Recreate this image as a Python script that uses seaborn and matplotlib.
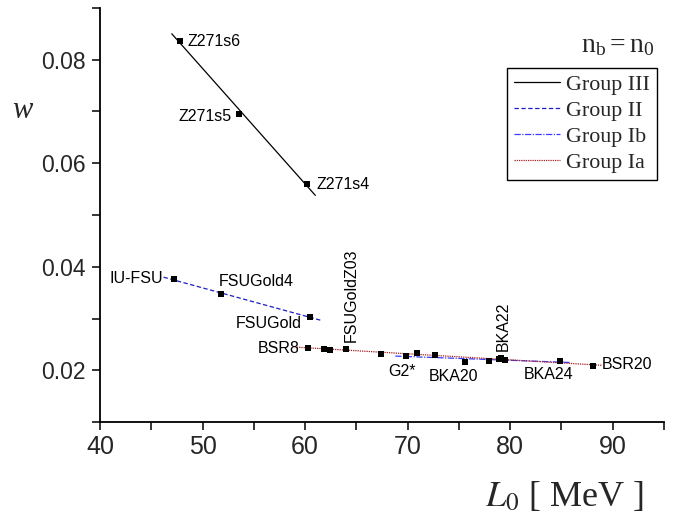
import numpy as np
import pandas as pd
import matplotlib
matplotlib.use("Agg")
import matplotlib.pyplot as plt
from matplotlib import font_manager
from matplotlib.ticker import MultipleLocator, FormatStrFormatter
import seaborn as sns

# ---- data: slope parameter L0 [MeV] and w for each parametrisation ----
group3_L = [47.8, 53.6, 60.2]
group3_w = [0.0836, 0.0696, 0.0559]
group3_names = ["Z271s6", "Z271s5", "Z271s4"]

group2_L = [47.2, 51.8, 60.5]
group2_w = [0.0376, 0.0347, 0.0303]
group2_names = ["IU-FSU", "FSUGold4", "FSUGold"]

group1b_L = [69.8, 72.7, 75.6, 77.95, 78.9, 84.85]
group1b_w = [0.0228, 0.0229, 0.0215, 0.0218, 0.0222, 0.0218]
group1b_names = ["G2*", "", "BKA20", "", "BKA22", "BKA24"]

group1a_L = [60.26, 61.8, 62.4, 64.0, 67.45, 70.9, 79.1, 79.5, 88.1]
group1a_w = [0.02434, 0.0241, 0.0240, 0.0241, 0.0231, 0.0233, 0.0224, 0.0220, 0.0209]
group1a_names = ["BSR8", "", "", "FSUGoldZ03", "", "", "", "", "BSR20"]

# x-extent of each linear fit line
fit_span = {
    "Group III": (47.0, 61.0),
    "Group II": (46.2, 61.5),
    "Group Ib": (68.8, 85.9),
    "Group Ia": (59.2, 88.9),
}

groups = {
    "Group III": (group3_L, group3_w),
    "Group II": (group2_L, group2_w),
    "Group Ib": (group1b_L, group1b_w),
    "Group Ia": (group1a_L, group1a_w),
}
line_style = {
    "Group III": dict(color="black", linestyle="-", linewidth=0.9),
    "Group II": dict(color="#1c1cc8", linestyle=(0, (3.5, 2)), linewidth=0.9),
    "Group Ib": dict(color="#3a3aff", linestyle=(0, (5, 1.2, 1, 1.2)), linewidth=0.9),
    "Group Ia": dict(color="#a52020", linestyle=(0, (1, 0.8)), linewidth=0.9),
}

points = pd.DataFrame({
    "L0": group3_L + group2_L + group1b_L + group1a_L,
    "w": group3_w + group2_w + group1b_w + group1a_w,
})

sns.set_style("ticks")
plt.rcParams["font.family"] = ["Liberation Sans", "DejaVu Sans"]
plt.rcParams["mathtext.fontset"] = "stix"

installed = {f.name for f in font_manager.fontManager.ttflist}
tick_family = ["Liberation Sans Narrow"] if "Liberation Sans Narrow" in installed \
    else ["Liberation Sans"]

fig = plt.figure(figsize=(6.83, 5.17), dpi=100)
ax = fig.add_axes([100 / 683, 1 - 422 / 517, 564 / 683, 414 / 517])

# linear fit lines per group
for name, (xs, ys) in groups.items():
    k, b = np.polyfit(xs, ys, 1)
    x0, x1 = fit_span[name]
    line_df = pd.DataFrame({"L0": [x0, x1], "w": [k * x0 + b, k * x1 + b]})
    sns.lineplot(data=line_df, x="L0", y="w", ax=ax, label=name,
                 **line_style[name])

sns.scatterplot(data=points, x="L0", y="w", ax=ax, marker="s", s=24,
                color="black", edgecolor="black", linewidth=0, zorder=5,
                legend=False)

# model labels
lab = dict(fontsize=11.5, color="black")
ax.text(48.5, 0.0836, "Z271s6", ha="left", va="center", **lab)
ax.text(52.85, 0.0691, "Z271s5", ha="right", va="center", **lab)
ax.text(61.1, 0.0558, "Z271s4", ha="left", va="center", **lab)
ax.text(46.2, 0.0377, "IU-FSU", ha="right", va="center", **lab)
ax.text(51.55, 0.0372, "FSUGold4", ha="left", va="center", **lab)
ax.text(59.7, 0.0291, "FSUGold", ha="right", va="center", **lab)
ax.text(59.45, 0.02423, "BSR8", ha="right", va="center", **lab)
ax.text(64.55, 0.0255, "FSUGoldZ03", ha="center", va="bottom", rotation=90, **lab)
ax.text(69.46, 0.0197, "G2*", ha="center", va="center", **lab)
ax.text(74.5, 0.01875, "BKA20", ha="center", va="center", **lab)
ax.text(79.35, 0.02376, "BKA22", ha="center", va="bottom", rotation=90, **lab)
ax.text(83.7, 0.0191, "BKA24", ha="center", va="center", **lab)
ax.text(88.95, 0.0212, "BSR20", ha="left", va="center", **lab)

# axes
ax.set_xlim(40, 95)
ax.set_ylim(0.01, 0.09)
ax.xaxis.set_major_locator(MultipleLocator(10))
ax.xaxis.set_minor_locator(MultipleLocator(5))
ax.yaxis.set_major_locator(MultipleLocator(0.02))
ax.yaxis.set_minor_locator(MultipleLocator(0.01))
ax.yaxis.set_major_formatter(FormatStrFormatter("%.2f"))
ax.tick_params(which="both", direction="out", length=6, width=1.1, color="black")
ax.tick_params(axis="x", which="major", labelsize=18, pad=3)
ax.tick_params(axis="y", which="major", labelsize=16.5, pad=4)
for t in ax.get_xticklabels() + ax.get_yticklabels():
    t.set_fontfamily(tick_family)
sns.despine(ax=ax)
for s in ("left", "bottom"):
    ax.spines[s].set_linewidth(1.3)
    ax.spines[s].set_color("black")
ax.set_xlabel("")
ax.set_ylabel("")

serif = ["Liberation Serif", "DejaVu Serif"]
fig.text(22 / 683, 1 - 110 / 517, "w", family=serif, style="italic",
         fontsize=22, ha="center", va="center")
fig.text(565 / 683, 1 - 497 / 517, r"$L_0$ [ MeV ]", family=serif,
         fontsize=26, ha="center", va="center")
fig.text(618 / 683, 1 - 46 / 517, r"$\mathregular{n_b = n_0}$", family=serif,
         fontsize=20, ha="center", va="center")

leg = ax.legend(loc="upper left", bbox_to_anchor=(507 / 683, 1 - 68 / 517),
                bbox_transform=fig.transFigure, frameon=True, fancybox=False,
                edgecolor="black", framealpha=1, handlelength=2.1,
                handletextpad=0.3, labelspacing=0.26, borderpad=0.3,
                borderaxespad=0, prop={"family": serif, "size": 15.8})
leg.get_frame().set_linewidth(1.0)

fig.savefig("out.png", dpi=100)
